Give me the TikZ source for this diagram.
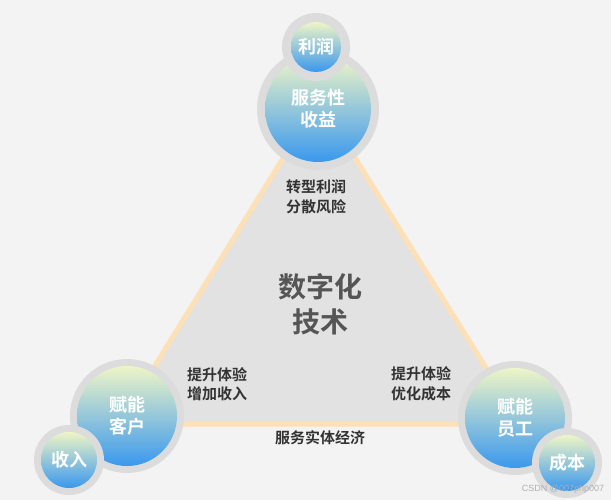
\documentclass[tikz,border=0pt]{standalone}
\usepackage{fontspec}
\newfontfamily\cjk{Noto Sans CJK SC}[BoldFont={Noto Sans CJK SC Bold}]
\newfontfamily\wmfont{Liberation Sans}
\definecolor{bg}{HTML}{F3F3F3}
\definecolor{trifill}{HTML}{E2E2E2}
\definecolor{triedge}{HTML}{FDE0B6}
\definecolor{ringgray}{HTML}{DCDCDC}
\definecolor{ballTop}{HTML}{EEF5C6}
\definecolor{ballMid}{HTML}{A6D3E6}
\definecolor{ballBot}{HTML}{3A98EE}
\definecolor{darktext}{HTML}{333333}
\definecolor{midtext}{HTML}{555555}
\definecolor{wmtext}{HTML}{B0B0B0}
\tikzset{
  ring/.style={circle, fill=ringgray, minimum size=#1, inner sep=0pt},
  ball/.style={circle, top color=ballTop, middle color=ballMid, bottom color=ballBot,
    minimum size=#1, inner sep=0pt, text=white, align=center,
    font=\cjk\bfseries\fontsize{18}{22}\selectfont},
  lbl/.style={text=darktext, align=center, font=\cjk\bfseries\fontsize{15}{19.5}\selectfont},
}
\begin{document}
\begin{tikzpicture}[x=1pt,y=-1pt]
\useasboundingbox (0,0) rectangle (611,500);
\fill[bg] (0,0) rectangle (611,500);
% triangle
\coordinate (tl) at (119,424);
\coordinate (tr) at (521,424);
\coordinate (tt) at (319,100);
\filldraw[fill=trifill, draw=triedge, line width=5pt, line join=round] (tl) -- (tr) -- (tt) -- cycle;
% labels
\node[lbl] (lt) at (316,197) {转型利润\\分散风险};
\node[lbl] (ll) at (217,384) {提升体验\\增加收入};
\node[lbl] (lr) at (421,384) {提升体验\\优化成本};
\node[lbl] (lb) at (320,438) {服务实体经济};
\node[text=midtext, align=center, font=\cjk\bfseries\fontsize{28}{35}\selectfont] (center) at (320,304) {数字化\\技术};
% top circles
\node[ring=122pt] (r1) at (318,109) {};
\node[ball=106pt] (b1) at (318,109) {服务性\\收益};
\node[ring=68pt] (r2) at (316,47) {};
\node[ball=50pt] (b2) at (316,47) {利润};
% bottom left
\node[ring=114pt] (r3) at (127,416) {};
\node[ball=100pt] (b3) at (127,416) {赋能\\客户};
\node[ring=70pt] (r4) at (69,460) {};
\node[ball=56pt] (b4) at (69,460) {收入};
% bottom right
\node[ring=114pt] (r5) at (515,418) {};
\node[ball=100pt] (b5) at (515,418) {赋能\\员工};
\node[ring=70pt] (r6) at (567,463) {};
\node[ball=56pt] (b6) at (567,463) {成本};
% watermark
\node[text=wmtext, font=\wmfont\fontsize{9}{10}\selectfont] (wm) at (563,489) {CSDN @007php007};
\end{tikzpicture}
\end{document}
